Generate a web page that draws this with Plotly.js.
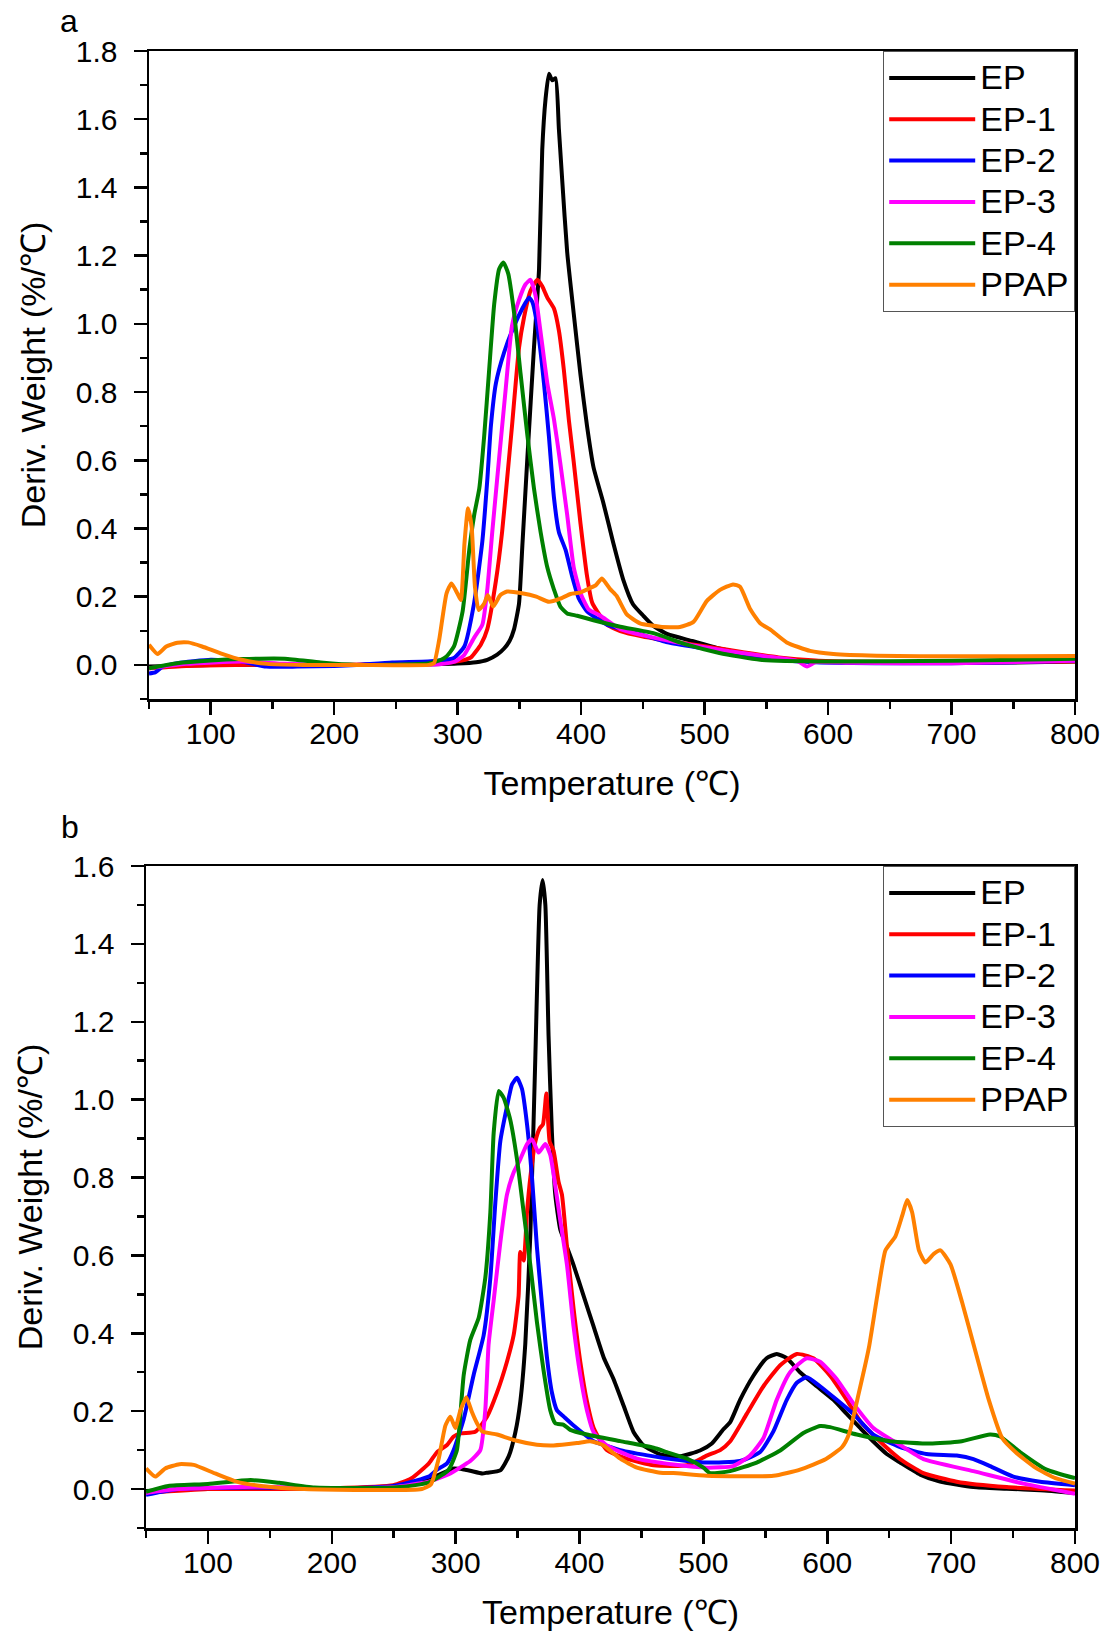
<!DOCTYPE html>
<html>
<head>
<meta charset="utf-8">
<script src="https://cdn.plot.ly/plotly-3.0.1.min.js"></script>
<style>html,body{margin:0;padding:0;background:#fff;}</style>
</head>
<body>
<div id="chart" style="width:1105px;height:1633px;"></div>
<script>
// ---------- DATA (Temperature °C, Deriv. Weight %/°C) ----------
const seriesNames = ['EP', 'EP-1', 'EP-2', 'EP-3', 'EP-4', 'PPAP'];
const seriesColors = ['#000000', '#FF0000', '#0000FF', '#FF00FF', '#008000', '#FF8000'];
const xTickVals = [100, 200, 300, 400, 500, 600, 700, 800];

// Panel a
const aEP = [[50,-0.005],[100,0],[150,0],[200,0],[250,0],[280,0.002],[300,0.004],[315,0.008],[324,0.015],[332,0.03],[337.6,0.048],[342,0.07],[345.7,0.105],[349.7,0.18],[352.4,0.35],[356.5,0.61],[361.8,0.93],[365.9,1.16],[368.5,1.51],[371.2,1.66],[373.9,1.733],[376.6,1.714],[379.3,1.72],[382,1.57],[384.7,1.42],[388.7,1.21],[394,1.03],[399.5,0.85],[404.8,0.70],[410,0.58],[418,0.475],[426,0.358],[434,0.251],[442,0.178],[450.4,0.144],[458.5,0.114],[470,0.09],[490,0.07],[510,0.05],[530,0.035],[560,0.018],[590,0.01],[620,0.008],[660,0.007],[700,0.006],[750,0.007],[800,0.01]];
const aEP1 = [[50,-0.01],[80,-0.003],[120,0],[160,0],[200,0],[240,0.002],[280,0.004],[295,0.008],[305,0.014],[310.8,0.022],[318.8,0.06],[324,0.105],[331,0.247],[336,0.39],[340,0.543],[344,0.70],[349.7,0.93],[353.8,1.02],[359,1.097],[364.5,1.129],[368.5,1.11],[372.6,1.077],[378,1.045],[382,0.98],[386,0.865],[390,0.72],[394,0.595],[399.5,0.414],[404.8,0.26],[408.9,0.183],[413,0.157],[421,0.118],[431.7,0.099],[450,0.083],[475,0.068],[500,0.055],[530,0.038],[560,0.022],[590,0.013],[620,0.01],[700,0.008],[800,0.01]];
const aEP2 = [[50,-0.025],[55,-0.022],[61,-0.005],[73,0.005],[100,0.015],[125,0.01],[145,-0.005],[170,-0.005],[200,-0.003],[218,0],[247,0.007],[276,0.01],[291,0.015],[297,0.02],[305.4,0.054],[313.4,0.183],[320,0.363],[324,0.543],[326.9,0.70],[331,0.826],[337.6,0.916],[345.7,0.994],[352.4,1.045],[357.8,1.077],[360.5,1.064],[364.5,0.994],[369.9,0.826],[373.9,0.67],[378,0.49],[382,0.389],[387.4,0.337],[392.7,0.26],[398,0.196],[404.8,0.157],[421,0.118],[445,0.093],[470,0.066],[500,0.048],[530,0.03],[560,0.015],[590,0.008],[650,0.005],[700,0.005],[750,0.008],[800,0.012]];
const aEP3 = [[50,-0.01],[80,0.003],[125,0.01],[160,0.003],[200,0],[250,0],[285,0.002],[298,0.01],[305,0.028],[313.4,0.08],[320,0.118],[324,0.221],[328,0.389],[333.6,0.607],[339,0.813],[344,0.994],[349.7,1.07],[355,1.116],[359,1.129],[363,1.084],[367,0.98],[372.6,0.826],[378,0.72],[383,0.595],[388.7,0.44],[394,0.286],[399.5,0.21],[406,0.163],[415.6,0.144],[431.7,0.105],[458.6,0.08],[490,0.058],[520,0.04],[550,0.025],[575,0.012],[583,-0.005],[590,0.008],[620,0.006],[700,0.005],[800,0.012]];
const aEP4 = [[50,-0.01],[73,0.005],[100,0.013],[125,0.017],[160,0.018],[189,0.007],[218,0],[260,0.002],[276,0.004],[286.6,0.015],[291,0.025],[297,0.054],[304,0.157],[309.4,0.337],[313.4,0.44],[317.5,0.517],[321.5,0.672],[325.5,0.865],[329.6,1.058],[333.6,1.161],[337,1.18],[340.9,1.148],[345.7,1.032],[351,0.852],[356.5,0.672],[361.8,0.517],[367.2,0.389],[372.6,0.286],[378,0.221],[383.3,0.17],[388.7,0.151],[396.8,0.144],[410,0.131],[431.7,0.112],[458.6,0.093],[485,0.06],[512,0.035],[545,0.015],[600,0.01],[700,0.012],[800,0.018]];
const aPPAP = [[50,0.059],[57,0.032],[64,0.054],[73,0.065],[81.7,0.066],[93,0.054],[108,0.034],[125,0.015],[145.6,0.003],[175,0],[218,0],[276.5,0],[280.8,0.005],[285,0.073],[291,0.21],[295,0.239],[299.7,0.21],[302.6,0.19],[305.5,0.356],[308.4,0.459],[311.3,0.405],[314,0.229],[317,0.161],[321.5,0.18],[324.4,0.205],[328.8,0.171],[334.6,0.205],[340,0.215],[352,0.21],[363.7,0.2],[374,0.185],[383,0.194],[391.4,0.208],[399,0.212],[407.5,0.226],[412,0.234],[416.8,0.253],[423.5,0.222],[428.8,0.202],[437,0.148],[447.7,0.122],[464,0.112],[480,0.111],[491,0.126],[501.7,0.187],[512.5,0.22],[523,0.236],[528.7,0.229],[537,0.163],[545,0.122],[553,0.104],[566.5,0.066],[585.4,0.041],[604.3,0.032],[639.4,0.027],[707,0.025],[800,0.026]];

// Panel b
const bEP = [[50,-0.005],[100,0.002],[150,0.002],[200,0.002],[249.6,0.006],[278.4,0.027],[285,0.035],[298.6,0.053],[307,0.05],[311.8,0.047],[321.6,0.04],[325.3,0.042],[336,0.048],[342.8,0.084],[348.2,0.146],[352.2,0.225],[356.2,0.372],[360.3,0.655],[364.3,1.107],[367.8,1.5],[370.2,1.564],[372.4,1.5],[375,1.163],[377.7,0.915],[380.4,0.756],[384.5,0.666],[389.9,0.621],[395.2,0.575],[403.3,0.496],[411.4,0.417],[419.5,0.338],[427.5,0.282],[435.6,0.214],[443.7,0.146],[451.7,0.112],[465.2,0.089],[481.3,0.084],[497.3,0.099],[506.8,0.117],[516,0.153],[521.5,0.171],[529.6,0.229],[540.4,0.291],[551,0.336],[559.2,0.347],[567.3,0.336],[578,0.3],[591.5,0.264],[605,0.229],[615.7,0.193],[626.5,0.157],[637.2,0.122],[648,0.09],[658.8,0.068],[675,0.037],[691,0.019],[718,0.005],[744.9,0.001],[771.8,-0.003],[800,-0.01]];
const bEP1 = [[50,-0.01],[100,0],[150,0],[200,0.002],[249.6,0.01],[264,0.027],[278.4,0.066],[285,0.095],[293,0.113],[298.4,0.135],[304.3,0.143],[315.8,0.147],[325.3,0.186],[333.4,0.248],[341.4,0.327],[346.8,0.395],[350.8,0.496],[352.2,0.609],[354.9,0.587],[357.6,0.711],[360.3,0.801],[364.3,0.892],[367.8,0.926],[370.5,0.937],[373.2,1.016],[375.9,0.892],[379,0.869],[383,0.79],[385.8,0.756],[389.9,0.621],[395.2,0.463],[400.6,0.327],[406,0.225],[411.4,0.157],[422,0.1],[438,0.078],[459.8,0.061],[486.7,0.061],[502.7,0.086],[513.6,0.1],[521.5,0.122],[535,0.193],[548.5,0.264],[562,0.318],[575.4,0.347],[588.8,0.336],[602.3,0.291],[615.7,0.229],[626.5,0.175],[642.6,0.122],[658.8,0.077],[677.6,0.041],[704.5,0.019],[744.9,0.005],[800,-0.004]];
const bEP2 = [[50,-0.015],[62.6,-0.007],[77,0],[134.5,0.004],[200,0.002],[249.6,0.008],[271.5,0.025],[278.4,0.032],[285,0.05],[293,0.066],[298.4,0.1],[306.5,0.18],[314.5,0.293],[322.6,0.395],[328,0.542],[332,0.734],[336,0.892],[341.4,0.982],[345.5,1.039],[349.5,1.056],[353.5,1.028],[357.6,0.937],[361.6,0.801],[365.6,0.621],[369.7,0.474],[373.7,0.338],[377.7,0.248],[381.8,0.202],[387.2,0.186],[395.2,0.163],[411.4,0.123],[432.9,0.1],[459.8,0.084],[486.7,0.072],[502.7,0.068],[529.6,0.072],[545.8,0.095],[556.5,0.148],[567.3,0.229],[575.4,0.273],[583.4,0.287],[594.2,0.264],[607.7,0.229],[621,0.193],[637.2,0.14],[658.8,0.108],[680,0.09],[704.5,0.086],[718,0.077],[731.4,0.059],[750.2,0.032],[771.8,0.019],[800,0.01]];
const bEP3 = [[50,-0.01],[75,0],[100,0.003],[140,0.006],[200,0.002],[250,0.005],[271.5,0.015],[278.4,0.019],[295.7,0.04],[307,0.062],[311.8,0.072],[319.9,0.1],[323.9,0.202],[326.6,0.372],[330.7,0.485],[336,0.632],[341.4,0.756],[346.8,0.813],[352.2,0.847],[357.6,0.886],[361.6,0.898],[367,0.864],[372.4,0.886],[376.4,0.858],[380.4,0.779],[384.5,0.689],[389.9,0.575],[395.2,0.417],[400.6,0.293],[406,0.202],[411.4,0.146],[422,0.112],[446.4,0.078],[475.8,0.063],[502.7,0.055],[524,0.059],[537.7,0.086],[548.5,0.131],[559.2,0.229],[570,0.3],[583.4,0.336],[594.2,0.327],[607.7,0.282],[621,0.22],[637.2,0.157],[658.8,0.113],[677.6,0.077],[718,0.046],[758.3,0.014],[800,-0.012]];
const bEP4 = [[50,-0.007],[68,0.008],[100,0.013],[134.5,0.023],[157.6,0.016],[186,0.004],[249.6,0.004],[271.5,0.012],[278.4,0.017],[293,0.045],[295.7,0.057],[301,0.1],[306.5,0.293],[311.8,0.383],[318.6,0.44],[323.9,0.542],[328,0.711],[330.7,0.915],[334.7,1.022],[338.7,1.005],[344.1,0.948],[349.5,0.847],[354.9,0.711],[360.3,0.575],[365.6,0.429],[371,0.304],[376.4,0.202],[380.4,0.169],[387.2,0.165],[392.5,0.152],[406,0.14],[432.9,0.123],[459.8,0.106],[470.4,0.095],[486.7,0.078],[500,0.055],[505.4,0.041],[521.5,0.046],[543,0.068],[562,0.099],[580.7,0.144],[594.2,0.162],[602.3,0.159],[623.8,0.14],[650.7,0.123],[683,0.117],[707.2,0.122],[731.4,0.14],[739.5,0.135],[755.6,0.095],[777.1,0.05],[800,0.028]];
const bPPAP = [[50,0.053],[57.4,0.032],[65.5,0.053],[77,0.064],[88.5,0.062],[105.8,0.04],[123,0.019],[143,0.008],[177.7,0],[272.7,0],[280,0.012],[286.3,0.078],[291.7,0.163],[295.7,0.186],[299.7,0.157],[303.8,0.202],[308.6,0.236],[313.2,0.197],[317.2,0.169],[321.3,0.148],[333.4,0.14],[346.8,0.126],[365.6,0.114],[379,0.112],[397.9,0.118],[408.7,0.123],[419.5,0.112],[432.9,0.078],[446.4,0.055],[465.2,0.042],[475.8,0.041],[502.7,0.034],[556.5,0.034],[578,0.05],[599,0.077],[612,0.108],[617.4,0.14],[625.5,0.247],[633.6,0.363],[640.4,0.497],[647,0.613],[655,0.649],[660.5,0.702],[664.5,0.742],[668.5,0.711],[674,0.613],[679.3,0.582],[686,0.604],[691.4,0.613],[699.5,0.577],[708.9,0.479],[719.6,0.354],[730.4,0.229],[741.2,0.131],[751.9,0.095],[768,0.055],[784.2,0.028],[800,0.014]];

const panelA = [aEP, aEP1, aEP2, aEP3, aEP4, aPPAP];
const panelB = [bEP, bEP1, bEP2, bEP3, bEP4, bPPAP];

// ---------- BUILD ----------
const FONT = '"Liberation Sans", Arial, Helvetica, sans-serif';
const W = 1105, H = 1633;
const traces = [];
function addPanel(data, xa, ya, legendId) {
  data.forEach((pts, i) => {
    traces.push({
      type: 'scatter', mode: 'lines',
      name: '<span style="font-size:34px">' + seriesNames[i] + '</span>',
      x: pts.map(p => p[0]),
      y: pts.map(p => p[1]),
      xaxis: xa, yaxis: ya, legend: legendId,
      line: {color: seriesColors[i], width: 4, shape: 'spline', smoothing: 0.5},
      hoverinfo: 'x+y'
    });
  });
}
addPanel(panelA, 'x', 'y', 'legend');
addPanel(panelB, 'x2', 'y2', 'legend2');

function xAxis(domain, anchor) {
  return {
    domain: domain, anchor: anchor, range: [50, 800],
    tickvals: xTickVals, ticks: 'outside', ticklen: 13, tickwidth: 2.5, tickcolor: '#000',
    ticklabelstandoff: -7,
    minor: {dtick: 50, tick0: 0, ticks: 'outside', ticklen: 7, tickwidth: 2.5, tickcolor: '#000'},
    showline: true, linewidth: 2.5, linecolor: '#000', mirror: true,
    showgrid: false, zeroline: false, automargin: false,
    tickfont: {family: FONT, size: 30, color: '#000'},
    title: {text: 'Temperature (℃)', font: {family: FONT, size: 34, color: '#000'}, standoff: 23}
  };
}
function yAxis(domain, anchor, maxv) {
  return {
    domain: domain, anchor: anchor, range: [-0.1, maxv],
    tick0: 0, dtick: 0.2, tickformat: '.1f', ticks: 'outside', ticklen: 13, tickwidth: 2.5, tickcolor: '#000',
    ticklabelstandoff: 10,
    minor: {dtick: 0.1, tick0: 0, ticks: 'outside', ticklen: 7, tickwidth: 2.5, tickcolor: '#000'},
    showline: true, linewidth: 2.5, linecolor: '#000', mirror: true,
    showgrid: false, zeroline: false, automargin: false,
    tickfont: {family: FONT, size: 30, color: '#000'},
    title: {text: 'Deriv. Weight (%/℃)', font: {family: FONT, size: 34, color: '#000'}, standoff: 20}
  };
}
const aTop = 51, aBot = 699, bTop = 866, bBot = 1528;
const legendBase = {
  xanchor: 'right', yanchor: 'top', bgcolor: '#fff', bordercolor: '#555', borderwidth: 1.2,
  font: {family: FONT, size: 29.5, color: '#000'}, itemwidth: 86, tracegroupgap: 0
};
const layout = {
  width: W, height: H,
  margin: {l: 0, r: 0, t: 0, b: 0},
  paper_bgcolor: '#fff', plot_bgcolor: '#fff',
  font: {family: FONT, color: '#000'},
  showlegend: true,
  xaxis: xAxis([149 / W, 1075 / W], 'y'),
  yaxis: yAxis([1 - aBot / H, 1 - aTop / H], 'x', 1.8),
  xaxis2: xAxis([146 / W, 1075 / W], 'y2'),
  yaxis2: yAxis([1 - bBot / H, 1 - bTop / H], 'x2', 1.6),
  legend: Object.assign({x: 1075 / W, y: 1 - aTop / H}, legendBase),
  legend2: Object.assign({x: 1075 / W, y: 1 - bTop / H}, legendBase),
  annotations: [
    {text: 'a', xref: 'paper', yref: 'paper', x: 69 / W, y: 1 - 21 / H, showarrow: false,
     xanchor: 'center', yanchor: 'middle', font: {family: FONT, size: 32, color: '#000'}},
    {text: 'b', xref: 'paper', yref: 'paper', x: 70 / W, y: 1 - 827 / H, showarrow: false,
     xanchor: 'center', yanchor: 'middle', font: {family: FONT, size: 32, color: '#000'}}
  ]
};
Plotly.newPlot('chart', traces, layout, {staticPlot: true, displayModeBar: false});
</script>
</body>
</html>
